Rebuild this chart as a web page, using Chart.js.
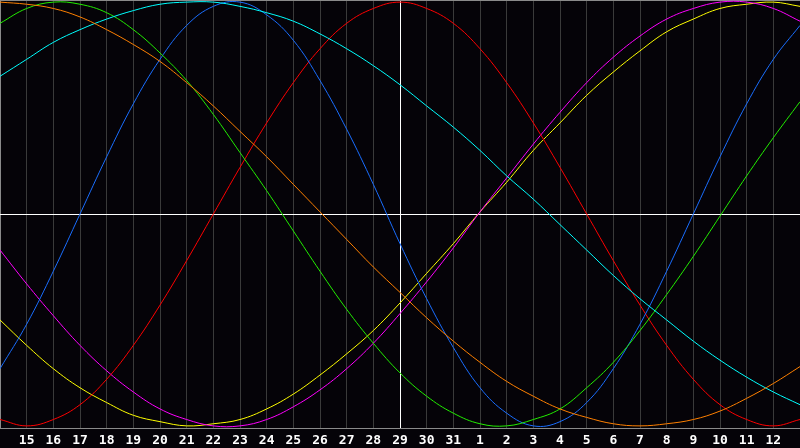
<!DOCTYPE html>
<html>
<head>
<meta charset="utf-8">
<script src="https://cdn.jsdelivr.net/npm/chart.js@4/dist/chart.umd.min.js"></script>
<style>
  html, body { margin: 0; padding: 0; background: #050308; }
  #wrap { width: 800px; height: 448px; }
</style>
</head>
<body>
<div id="wrap"><canvas id="bioChart"></canvas></div>
<script>
// day labels, first and last slot are the edges of the plot
var days = ['', '15', '16', '17', '18', '19', '20', '21', '22', '23', '24', '25', '26', '27', '28',
    '29', '30', '31', '1', '2', '3', '4', '5', '6', '7', '8', '9', '10', '11', '12', ''];
var todayIndex = 15;

// curve values, -100..100
var red = [-97, -100, -97, -90, -78, -62, -43, -22, 0, 22, 43, 62, 78, 90, 97, 100,
    97, 90, 78, 62, 43, 22, 0, -22, -43, -62, -78, -90, -97, -100, -97];
var blue = [-73, -52, -27, 0, 27, 52, 73, 89, 98, 100, 94, 82, 63, 40, 14, -14,
    -40, -63, -82, -94, -100, -98, -89, -73, -52, -27, 0, 27, 52, 73, 89];
var green = [90, 97, 100, 99, 95, 87, 76, 63, 47, 29, 11, -8, -27, -45, -61, -75,
    -86, -94, -99, -100, -97, -92, -82, -70, -55, -38, -20, -1, 18, 36, 53];
var cyan = [65, 73, 81, 87, 92, 96, 99, 100, 100, 98, 95, 91, 85, 78, 70, 61,
    51, 41, 30, 18, 7, -5, -17, -29, -40, -50, -60, -69, -77, -84, -90];
var orange = [100, 99, 97, 93, 87, 80, 72, 62, 51, 39, 27, 14, 1, -12, -25, -37,
    -49, -60, -70, -79, -86, -92, -96, -99, -100, -99, -97, -93, -87, -80, -72];
var magenta = [-17, -33, -48, -62, -74, -84, -92, -97, -100, -100, -97, -91, -83, -73, -61, -47,
    -32, -16, 1, 17, 33, 48, 62, 74, 84, 92, 97, 100, 100, 97, 91];
var yellow = [-50, -62, -73, -82, -89, -95, -98, -100, -99, -97, -92, -85, -76, -66, -55, -42,
    -28, -14, 1, 15, 30, 43, 56, 67, 77, 86, 92, 97, 99, 100, 98];

function line(data, color) {
    return {
        data: data,
        borderColor: color,
        borderWidth: 1,
        pointRadius: 0,
        pointHoverRadius: 0,
        tension: 0.4,
        fill: false
    };
}

document.addEventListener('DOMContentLoaded', function () {
    var ctx = document.getElementById('bioChart').getContext('2d');
    new Chart(ctx, {
        type: 'line',
        data: {
            labels: days,
            datasets: [
                line(orange, '#ff8000'),
                line(cyan, '#00ffff'),
                line(green, '#22ee00'),
                line(blue, '#1a6eff'),
                line(red, '#ff0000'),
                line(magenta, '#ff00ff'),
                line(yellow, '#ffff00')
            ]
        },
        options: {
            responsive: true,
            maintainAspectRatio: false,
            animation: false,
            layout: { padding: 0, autoPadding: false },
            plugins: {
                legend: { display: false },
                tooltip: { enabled: false }
            },
            scales: {
                x: {
                    offset: false,
                    // plot runs edge to edge, labels in a 20px strip below
                    afterFit: function (scale) {
                        scale.height = 20;
                        scale.paddingLeft = 0;
                        scale.paddingRight = 0;
                    },
                    border: { display: true, color: '#8a8a8a', width: 1 },
                    grid: {
                        drawTicks: false,
                        color: function (c) {
                            if (c.index === todayIndex) return '#ffffff';
                            if (c.index === 0) return '#8a8a8a';
                            return '#3a3a3a';
                        }
                    },
                    ticks: {
                        color: '#ffffff',
                        autoSkip: false,
                        maxRotation: 0,
                        padding: 5,
                        font: { family: 'DejaVu Sans Mono', size: 13, weight: 'bold' }
                    }
                },
                y: {
                    min: -101,
                    max: 101,
                    border: { display: false },
                    grid: {
                        drawTicks: false,
                        color: function (c) {
                            return c.tick.value === 0 ? '#ffffff' : '#8a8a8a';
                        }
                    },
                    ticks: { display: false, stepSize: 101 }
                }
            }
        }
    });
});
</script>
</body>
</html>
